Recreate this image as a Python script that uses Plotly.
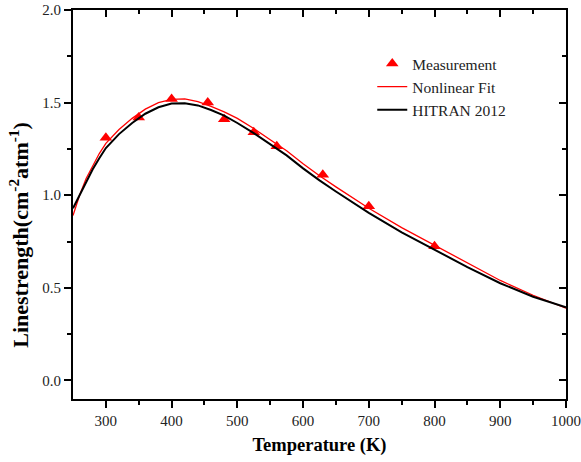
import plotly.graph_objects as go

# Measurement points
meas_T = [300, 350, 400, 455, 480, 525, 560, 630, 700, 800]
meas_S = [1.31, 1.42, 1.52, 1.50, 1.41, 1.34, 1.265, 1.11, 0.94, 0.725]

# Nonlinear fit curve
fit_T = [250, 260, 270, 280, 290, 300, 320, 340, 360, 380, 400, 420, 440, 460, 480,
         500, 525, 550, 575, 600, 625, 650, 700, 750, 800, 850, 900, 950, 1000]
fit_S = [0.89, 1.00, 1.09, 1.16, 1.225, 1.28, 1.355, 1.415, 1.465, 1.50, 1.518, 1.52,
         1.505, 1.48, 1.45, 1.415, 1.36, 1.30, 1.24, 1.17, 1.105, 1.045, 0.93, 0.825,
         0.73, 0.632, 0.54, 0.46, 0.39]

# HITRAN 2012 curve
hit_T = fit_T
hit_S = [0.93, 1.00, 1.075, 1.14, 1.20, 1.255, 1.33, 1.39, 1.44, 1.475, 1.495, 1.497,
         1.485, 1.46, 1.43, 1.39, 1.335, 1.275, 1.215, 1.145, 1.08, 1.02, 0.905, 0.80,
         0.705, 0.612, 0.525, 0.452, 0.395]

FONT = "Liberation Serif"
XTICKS = [300, 400, 500, 600, 700, 800, 900, 1000]
XMINOR = [350, 450, 550, 650, 750, 850, 950]
YTICKS = [0.0, 0.5, 1.0, 1.5, 2.0]
YLABELS = ["0.0", "0.5", "1.0", "1.5", "2.0"]
YMINOR = [0.25, 0.75, 1.25, 1.75]

fig = go.Figure()
fig.add_trace(go.Scatter(x=meas_T, y=meas_S, mode="markers", name="Measurement",
                         marker=dict(symbol="triangle-up", size=11, color="#ff0000")))
fig.add_trace(go.Scatter(x=fit_T, y=fit_S, mode="lines", name="Nonlinear Fit",
                         line=dict(color="#ff0000", width=1.3)))
fig.add_trace(go.Scatter(x=hit_T, y=hit_S, mode="lines", name="HITRAN 2012",
                         line=dict(color="#000000", width=2)))
# invisible trace to activate top/right axes
fig.add_trace(go.Scatter(x=[250], y=[0], xaxis="x2", yaxis="y2", mode="markers",
                         marker=dict(opacity=0), showlegend=False, hoverinfo="skip"))

common = dict(showgrid=False, zeroline=False, showline=True, linecolor="black",
              linewidth=2, tickcolor="black", tickwidth=1.5, automargin=False)

fig.update_layout(
    width=581, height=462,
    margin=dict(l=73, r=15, t=10, b=63),
    paper_bgcolor="white", plot_bgcolor="white",
    font=dict(family=FONT, size=15, color="#222"),
    xaxis=dict(range=[250, 1000], tickvals=XTICKS, ticks="outside", ticklen=7,
               minor=dict(tickvals=XMINOR, ticks="outside", ticklen=4, tickcolor="black", tickwidth=1.5),
               tickfont=dict(family=FONT, size=15, color="#222"), ticklabeloverflow="allow",
               title=dict(text="<b>Temperature (K)</b>", font=dict(family=FONT, size=18.5, color="black"), standoff=10),
               **common),
    yaxis=dict(range=[-0.1, 2.0], tickvals=YTICKS, ticktext=YLABELS, ticks="outside", ticklen=7,
               minor=dict(tickvals=YMINOR, ticks="outside", ticklen=4, tickcolor="black", tickwidth=1.5),
               tickfont=dict(family=FONT, size=15, color="#222"), ticklabeloverflow="allow",
               **common),
    xaxis2=dict(overlaying="x", side="top", range=[250, 1000], tickvals=XTICKS,
                ticks="inside", ticklen=7, showticklabels=False,
                minor=dict(tickvals=XMINOR, ticks="inside", ticklen=4, tickcolor="black", tickwidth=1.5),
                **common),
    yaxis2=dict(overlaying="y", side="right", range=[-0.1, 2.0], tickvals=YTICKS,
                ticks="inside", ticklen=7, showticklabels=False,
                minor=dict(tickvals=YMINOR, ticks="inside", ticklen=4, tickcolor="black", tickwidth=1.5),
                **common),
    legend=dict(x=0.607, y=0.905, xanchor="left", yanchor="top", bgcolor="rgba(0,0,0,0)",
                font=dict(family=FONT, size=15.5, color="#222"), tracegroupgap=0, itemwidth=30),
    showlegend=True,
    annotations=[dict(text="<b>Linestrength(cm<sup>-2</sup>atm<sup>-1</sup>)</b>",
                      xref="paper", yref="paper", x=-0.11, y=0.4216, textangle=-90,
                      showarrow=False, xanchor="center", yanchor="middle",
                      font=dict(family=FONT, size=22, color="black"))],
)

fig.write_html("out.html", config={"displayModeBar": False},
               post_script="document.body.style.margin='0';document.body.style.overflow='hidden';")
